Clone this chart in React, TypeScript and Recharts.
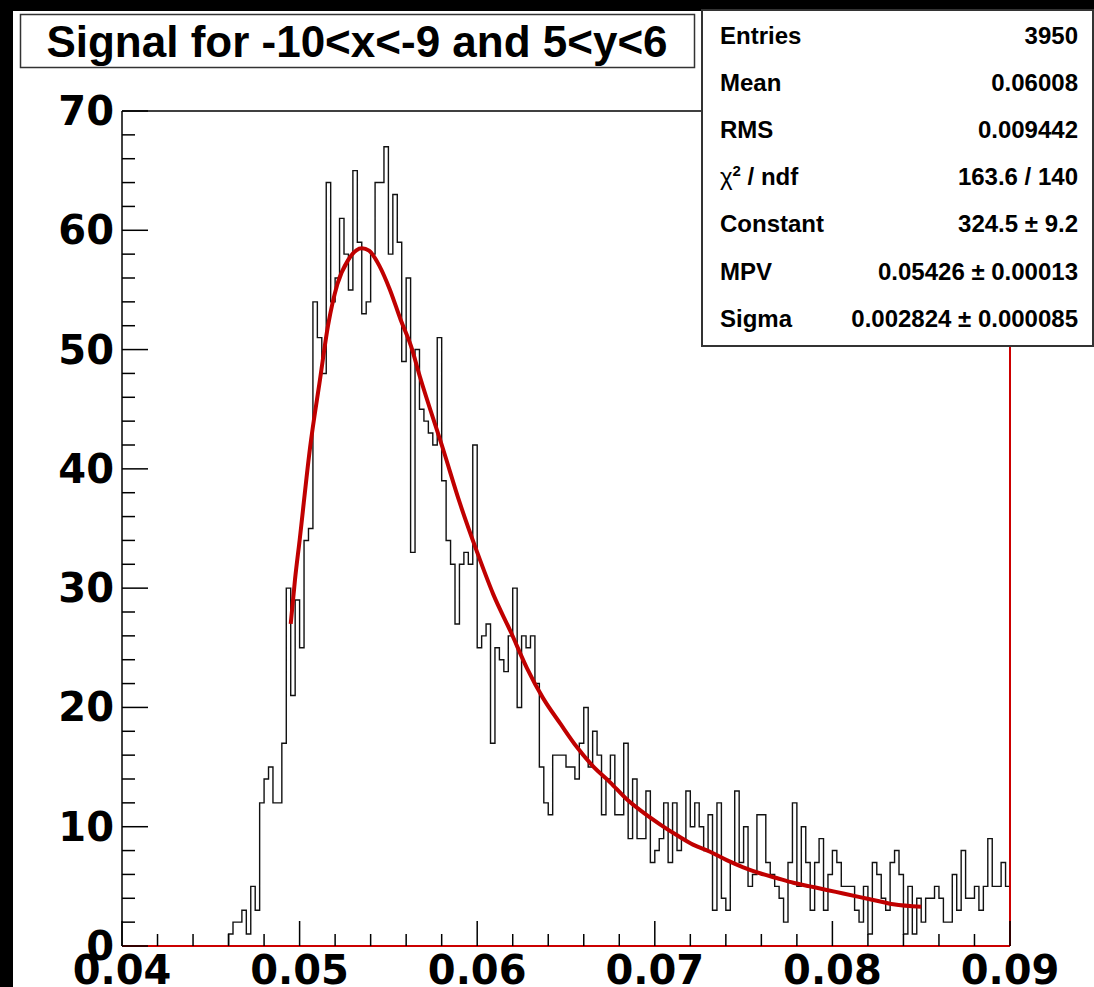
import { ComposedChart, Line, XAxis, YAxis, ReferenceLine } from "recharts"

const X_MIN = 0.04
const X_MAX = 0.09
const BIN_WIDTH = 0.00025

// bin contents, 200 bins of 0.00025 between 0.04 and 0.09
const counts = [
  0, 0, 0, 0, 0, 0, 0, 0, 0, 0, 0, 0, 0, 0, 0, 0, 0, 0, 0, 0,
  0, 0, 0, 0, 1, 2, 2, 3, 1, 5, 3, 12, 14, 15, 12, 12, 17, 30, 21, 29,
  25, 34, 35, 54, 51, 48, 64, 54, 56, 61, 58, 55, 65, 59, 53, 54, 58, 64, 64, 67,
  58, 63, 59, 49, 56, 33, 50, 45, 44, 43, 42, 51, 39, 34, 32, 27, 32, 33, 32, 42,
  25, 26, 27, 17, 25, 24, 23, 26, 30, 20, 26, 25, 26, 22, 15, 12, 11, 16, 16, 16,
  15, 15, 14, 17, 20, 15, 18, 16, 11, 14, 16, 11, 11, 17, 9, 14, 9, 9, 13, 7,
  8, 9, 12, 7, 12, 8, 9, 13, 10, 12, 10, 8, 11, 3, 12, 4, 3, 7, 13, 7,
  10, 5, 6, 11, 11, 7, 6, 5, 4, 2, 7, 12, 5, 10, 7, 3, 7, 9, 3, 6,
  8, 7, 5, 5, 5, 3, 2, 5, 1, 7, 6, 4, 3, 7, 8, 6, 1, 5, 1, 4,
  2, 4, 4, 5, 4, 2, 2, 6, 3, 8, 4, 4, 5, 3, 5, 9, 5, 5, 7, 5,
]

// landau fit curve, fit range 0.0495 - 0.085
const fitX = [
  0.0495, 0.04974, 0.05, 0.05059, 0.05115, 0.0516, 0.05213, 0.05273, 0.05351, 0.05391,
  0.0545, 0.05509, 0.05569, 0.05627, 0.05678, 0.05809, 0.05903, 0.06, 0.0609, 0.0619,
  0.0628, 0.0637, 0.0647, 0.0656, 0.0665, 0.0675, 0.06842, 0.06934, 0.07029, 0.07123,
  0.07215, 0.07311, 0.07405, 0.07498, 0.07592, 0.07686, 0.0778, 0.07874, 0.07968, 0.08061,
  0.08155, 0.0825, 0.08343, 0.085,
]
const fitY = [
  27, 30.7, 34, 41.8, 47.5, 52, 55.5, 57.5, 58.5, 58.3,
  57, 55, 52.5, 50.3, 47.7, 41.6, 37.1, 33, 29.5, 26.3,
  23.3, 20.8, 18.6, 16.7, 15.1, 13.7, 12.3, 11.2, 10.2, 9.3,
  8.5, 7.9, 7.2, 6.6, 6.1, 5.7, 5.3, 5.0, 4.7, 4.4,
  4.1, 3.8, 3.5, 3.3,
]

const xMajor = [0.04, 0.05, 0.06, 0.07, 0.08, 0.09]
const yMajor = [0, 10, 20, 30, 40, 50, 60, 70]

const statLabels = ["Entries", "Mean", "RMS", "χ2 / ndf", "Constant", "MPV", "Sigma"]
const statValues = ["3950", "0.06008", "0.009442", "163.6 / 140", "324.5 ± 9.2", "0.05426 ± 0.00013", "0.002824 ± 0.000085"]

const TITLE = "Signal for -10<x<-9 and 5<y<6"

// 5 subdivisions between major ticks
const withMinor = (major: number[]) => {
  const out: number[] = []
  for (let i = 0; i < major.length - 1; i++) {
    const step = (major[i + 1] - major[i]) / 5
    for (let k = 0; k < 5; k++) out.push(+(major[i] + k * step).toFixed(6))
  }
  out.push(major[major.length - 1])
  return out
}
const xTicks = withMinor(xMajor)
const yTicks = withMinor(yMajor)

const histData = counts.map((c, i) => ({ x: +(X_MIN + i * BIN_WIDTH).toFixed(6), count: c }))
histData.push({ x: X_MAX, count: counts[counts.length - 1] })

const fitData = fitX.map((x, i) => ({ x, fit: fitY[i] }))

const isMajor = (list: number[], v: number) => list.some((m) => Math.abs(m - v) < 1e-9)

const LABEL_FONT = "'DejaVu Sans', sans-serif"
const TEXT_FONT = "'Liberation Sans', Arial, Helvetica, sans-serif"

function XTick(props: any) {
  const { x, y, payload } = props
  const major = isMajor(xMajor, payload.value)
  return (
    <g>
      <line x1={x} y1={y} x2={x} y2={y - (major ? 25 : 12)} stroke="#000" strokeWidth={1.5} />
      {major && (
        <text x={x} y={y + 38} textAnchor="middle" fontFamily={LABEL_FONT} fontWeight="bold" fontSize={40} fill="#000">
          {payload.value.toFixed(2)}
        </text>
      )}
    </g>
  )
}

function YTick(props: any) {
  const { x, y, payload } = props
  const major = isMajor(yMajor, payload.value)
  return (
    <g>
      <line x1={x} y1={y} x2={x + (major ? 26 : 13)} y2={y} stroke="#000" strokeWidth={1.5} />
      {major && (
        <text x={x - 8} y={y + 14} textAnchor="end" fontFamily={LABEL_FONT} fontWeight="bold" fontSize={40} fill="#000">
          {payload.value}
        </text>
      )}
    </g>
  )
}

function Overlay() {
  return (
    <svg width={1094} height={987} style={{ position: "absolute", left: 0, top: 0, pointerEvents: "none" }}>
      <rect x={20.5} y={14.5} width={674} height={53} fill="#fff" stroke="#333" strokeWidth={1.5} />
      <text x={357} y={57} textAnchor="middle" fontFamily={TEXT_FONT} fontWeight="bold" fontSize={44} fill="#000">
        {TITLE}
      </text>
      <rect x={702} y={10} width={391} height={336} fill="#fff" stroke="#333" strokeWidth={2} />
      {statLabels.map((label, i) => {
        const by = 44 + i * 47.1
        return (
          <g key={label} fontFamily={TEXT_FONT} fontWeight="bold" fontSize={24} fill="#000">
            {label.startsWith("χ2") ? (
              <text x={720} y={by}>
                <tspan fontWeight="normal">χ</tspan>
                <tspan dy={-9} fontSize={15}>2</tspan>
                <tspan dy={9}> / ndf</tspan>
              </text>
            ) : (
              <text x={720} y={by}>{label}</text>
            )}
            <text x={1078} y={by} textAnchor="end">{statValues[i]}</text>
          </g>
        )
      })}
    </svg>
  )
}

export default function App() {
  return (
    <div style={{ position: "absolute", left: 0, top: 0, width: 1094, height: 987, background: "#000", overflow: "hidden" }}>
      <div style={{ position: "absolute", left: 13, top: 11, width: 1081, height: 976, background: "#fff" }} />
      <div style={{ position: "absolute", left: 0, top: 0 }}>
        <ComposedChart width={1094} height={987} margin={{ top: 111, right: 84, bottom: 0, left: 0 }}>
          <Line
            data={histData}
            dataKey="count"
            type="stepAfter"
            stroke="#111"
            strokeWidth={1.4}
            dot={false}
            activeDot={false}
            isAnimationActive={false}
          />
          <Line
            data={fitData}
            dataKey="fit"
            type="monotone"
            stroke="#c00000"
            strokeWidth={4}
            dot={false}
            activeDot={false}
            isAnimationActive={false}
          />
          <ReferenceLine y={70} stroke="#000" strokeWidth={1.5} />
          <ReferenceLine x={X_MAX} stroke="#cc0000" strokeWidth={2} />
          <XAxis
            dataKey="x"
            type="number"
            domain={[X_MIN, X_MAX]}
            allowDataOverflow
            ticks={xTicks}
            interval={0}
            tickSize={0}
            tickMargin={0}
            height={41}
            tick={<XTick />}
            axisLine={{ stroke: "#cc0000", strokeWidth: 2 }}
          />
          <YAxis
            type="number"
            domain={[0, 70]}
            allowDataOverflow
            ticks={yTicks}
            interval={0}
            tickSize={0}
            tickMargin={0}
            width={122}
            tick={<YTick />}
            axisLine={{ stroke: "#000", strokeWidth: 1.5 }}
          />
        </ComposedChart>
      </div>
      <Overlay />
    </div>
  )
}
